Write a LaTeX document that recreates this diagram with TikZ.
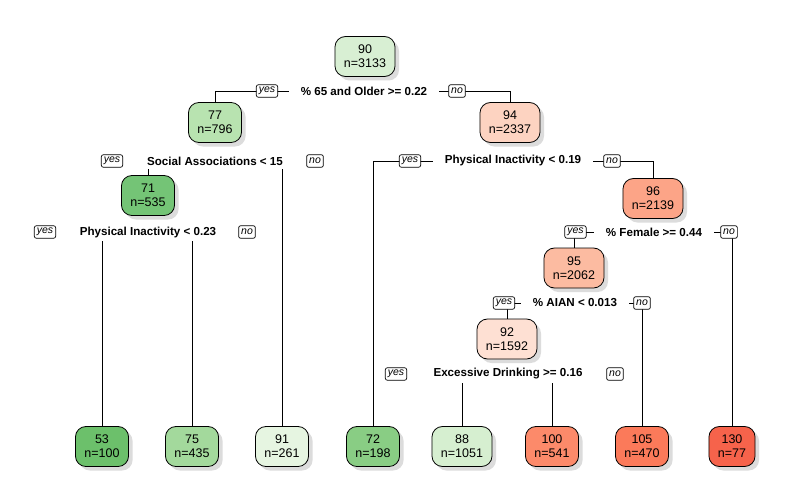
\documentclass[tikz,border=0pt]{standalone}
\usepackage{fontspec}
\setmainfont{Liberation Sans}
\usetikzlibrary{shadows,backgrounds}
% fill colours of the tree boxes (green = low, red = high)
\definecolor{g90}{HTML}{D8EFD3}
\definecolor{g77}{HTML}{B8E3B0}
\definecolor{g71}{HTML}{74C476}
\definecolor{g53}{HTML}{6CC06B}
\definecolor{g75}{HTML}{A3D99C}
\definecolor{g91}{HTML}{E6F5E1}
\definecolor{g72}{HTML}{89CD84}
\definecolor{g88}{HTML}{D6EFD0}
\definecolor{r94}{HTML}{FDD3C1}
\definecolor{r96}{HTML}{FCA487}
\definecolor{r95}{HTML}{FCBBA1}
\definecolor{r92}{HTML}{FEE0D3}
\definecolor{r100}{HTML}{FC8A6A}
\definecolor{r105}{HTML}{FB7A5A}
\definecolor{r130}{HTML}{F6634B}
\begin{document}
\begin{tikzpicture}[x=1pt,y=-1pt,
  tnode/.style={draw, line width=0.8pt, rounded corners=10.5pt, align=center,
    font=\fontsize{12.5}{14}\selectfont, inner xsep=9pt, inner ysep=4pt,
    minimum height=40pt,
    drop shadow={shadow xshift=4pt, shadow yshift=-4pt, fill=black!27}},
  splitlbl/.style={fill=white, font=\fontsize{11.6}{13}\selectfont\bfseries,
    inner xsep=12pt, inner ysep=4pt},
  yesno/.style={draw, fill=white, line width=0.7pt, rounded corners=2pt,
    font=\fontsize{10.5}{11}\selectfont\itshape, inner xsep=2.5pt, inner ysep=1pt,
    minimum height=12.5pt},
  link/.style={line width=0.8pt}]
\useasboundingbox (0,0) rectangle (800,500);

% internal nodes
\node[tnode, fill=g90] (n1)  at (365,56.5)  {90\\n=3133};
\node[tnode, fill=g77] (n2)  at (215,122.5) {77\\n=796};
\node[tnode, fill=r94] (n3)  at (510,122.5) {94\\n=2337};
\node[tnode, fill=g71] (n4)  at (148,195.5) {71\\n=535};
\node[tnode, fill=r96] (n7)  at (653,198.5) {96\\n=2139};
\node[tnode, fill=r95] (n14) at (574,268)   {95\\n=2062};
\node[tnode, fill=r92] (n28) at (507,339)   {92\\n=1592};

% leaves
\node[tnode, fill=g53]  (l53)  at (102,446.5) {53\\n=100};
\node[tnode, fill=g75]  (l75)  at (192,446.5) {75\\n=435};
\node[tnode, fill=g91]  (l91)  at (282,446.5) {91\\n=261};
\node[tnode, fill=g72]  (l72)  at (373,446.5) {72\\n=198};
\node[tnode, fill=g88]  (l88)  at (462,446.5) {88\\n=1051};
\node[tnode, fill=r100] (l100) at (552,446.5) {100\\n=541};
\node[tnode, fill=r105] (l105) at (642,446.5) {105\\n=470};
\node[tnode, fill=r130] (l130) at (732,446.5) {130\\n=77};

% split rules
\node[splitlbl] (s1)  at (364,91)  {\% 65 and Older >= 0.22};
\node[splitlbl] (s2)  at (215,161) {Social Associations < 15};
\node[splitlbl] (s3)  at (513,161) {Physical Inactivity < 0.19};
\node[splitlbl] (s4)  at (148,232) {Physical Inactivity < 0.23};
\node[splitlbl] (s7)  at (654,232) {\% Female >= 0.44};
\node[splitlbl] (s14) at (575,303) {\% AIAN < 0.013};
\node[splitlbl] (s28) at (508,374) {Excessive Drinking >= 0.16};

% white page and branch connectors, behind the labels
\begin{scope}[on background layer]
  \fill[white] (0,0) rectangle (800,500);
  \draw[link] (n2.north)   |- (s1.center);
  \draw[link] (n3.north)   |- (s1.center);
  \draw[link] (n4.north)   |- (s2.center);
  \draw[link] (l91.north)  |- (s2.center);
  \draw[link] (l72.north)  |- (s3.center);
  \draw[link] (n7.north)   |- (s3.center);
  \draw[link] (l53.north)  |- (s4.center);
  \draw[link] (l75.north)  |- (s4.center);
  \draw[link] (n14.north)  |- (s7.center);
  \draw[link] (l130.north) |- (s7.center);
  \draw[link] (n28.north)  |- (s14.center);
  \draw[link] (l105.north) |- (s14.center);
  \draw[link] (l88.north)  |- (s28.center);
  \draw[link] (l100.north) |- (s28.center);
\end{scope}

% yes / no tags
\node[yesno] (y1)  at (267,91)    {yes};
\node[yesno] (x1)  at (457,91)    {no};
\node[yesno] (y2)  at (112,161)   {yes};
\node[yesno] (x2)  at (315,161)   {no};
\node[yesno] (y3)  at (410,161)   {yes};
\node[yesno] (x3)  at (612,161)   {no};
\node[yesno] (y4)  at (45,232)    {yes};
\node[yesno] (x4)  at (247,232)   {no};
\node[yesno] (y7)  at (575.5,232) {yes};
\node[yesno] (x7)  at (729,232)   {no};
\node[yesno] (y14) at (504,303)   {yes};
\node[yesno] (x14) at (642,303)   {no};
\node[yesno] (y28) at (396,374)   {yes};
\node[yesno] (x28) at (615,374)   {no};
\end{tikzpicture}
\end{document}
